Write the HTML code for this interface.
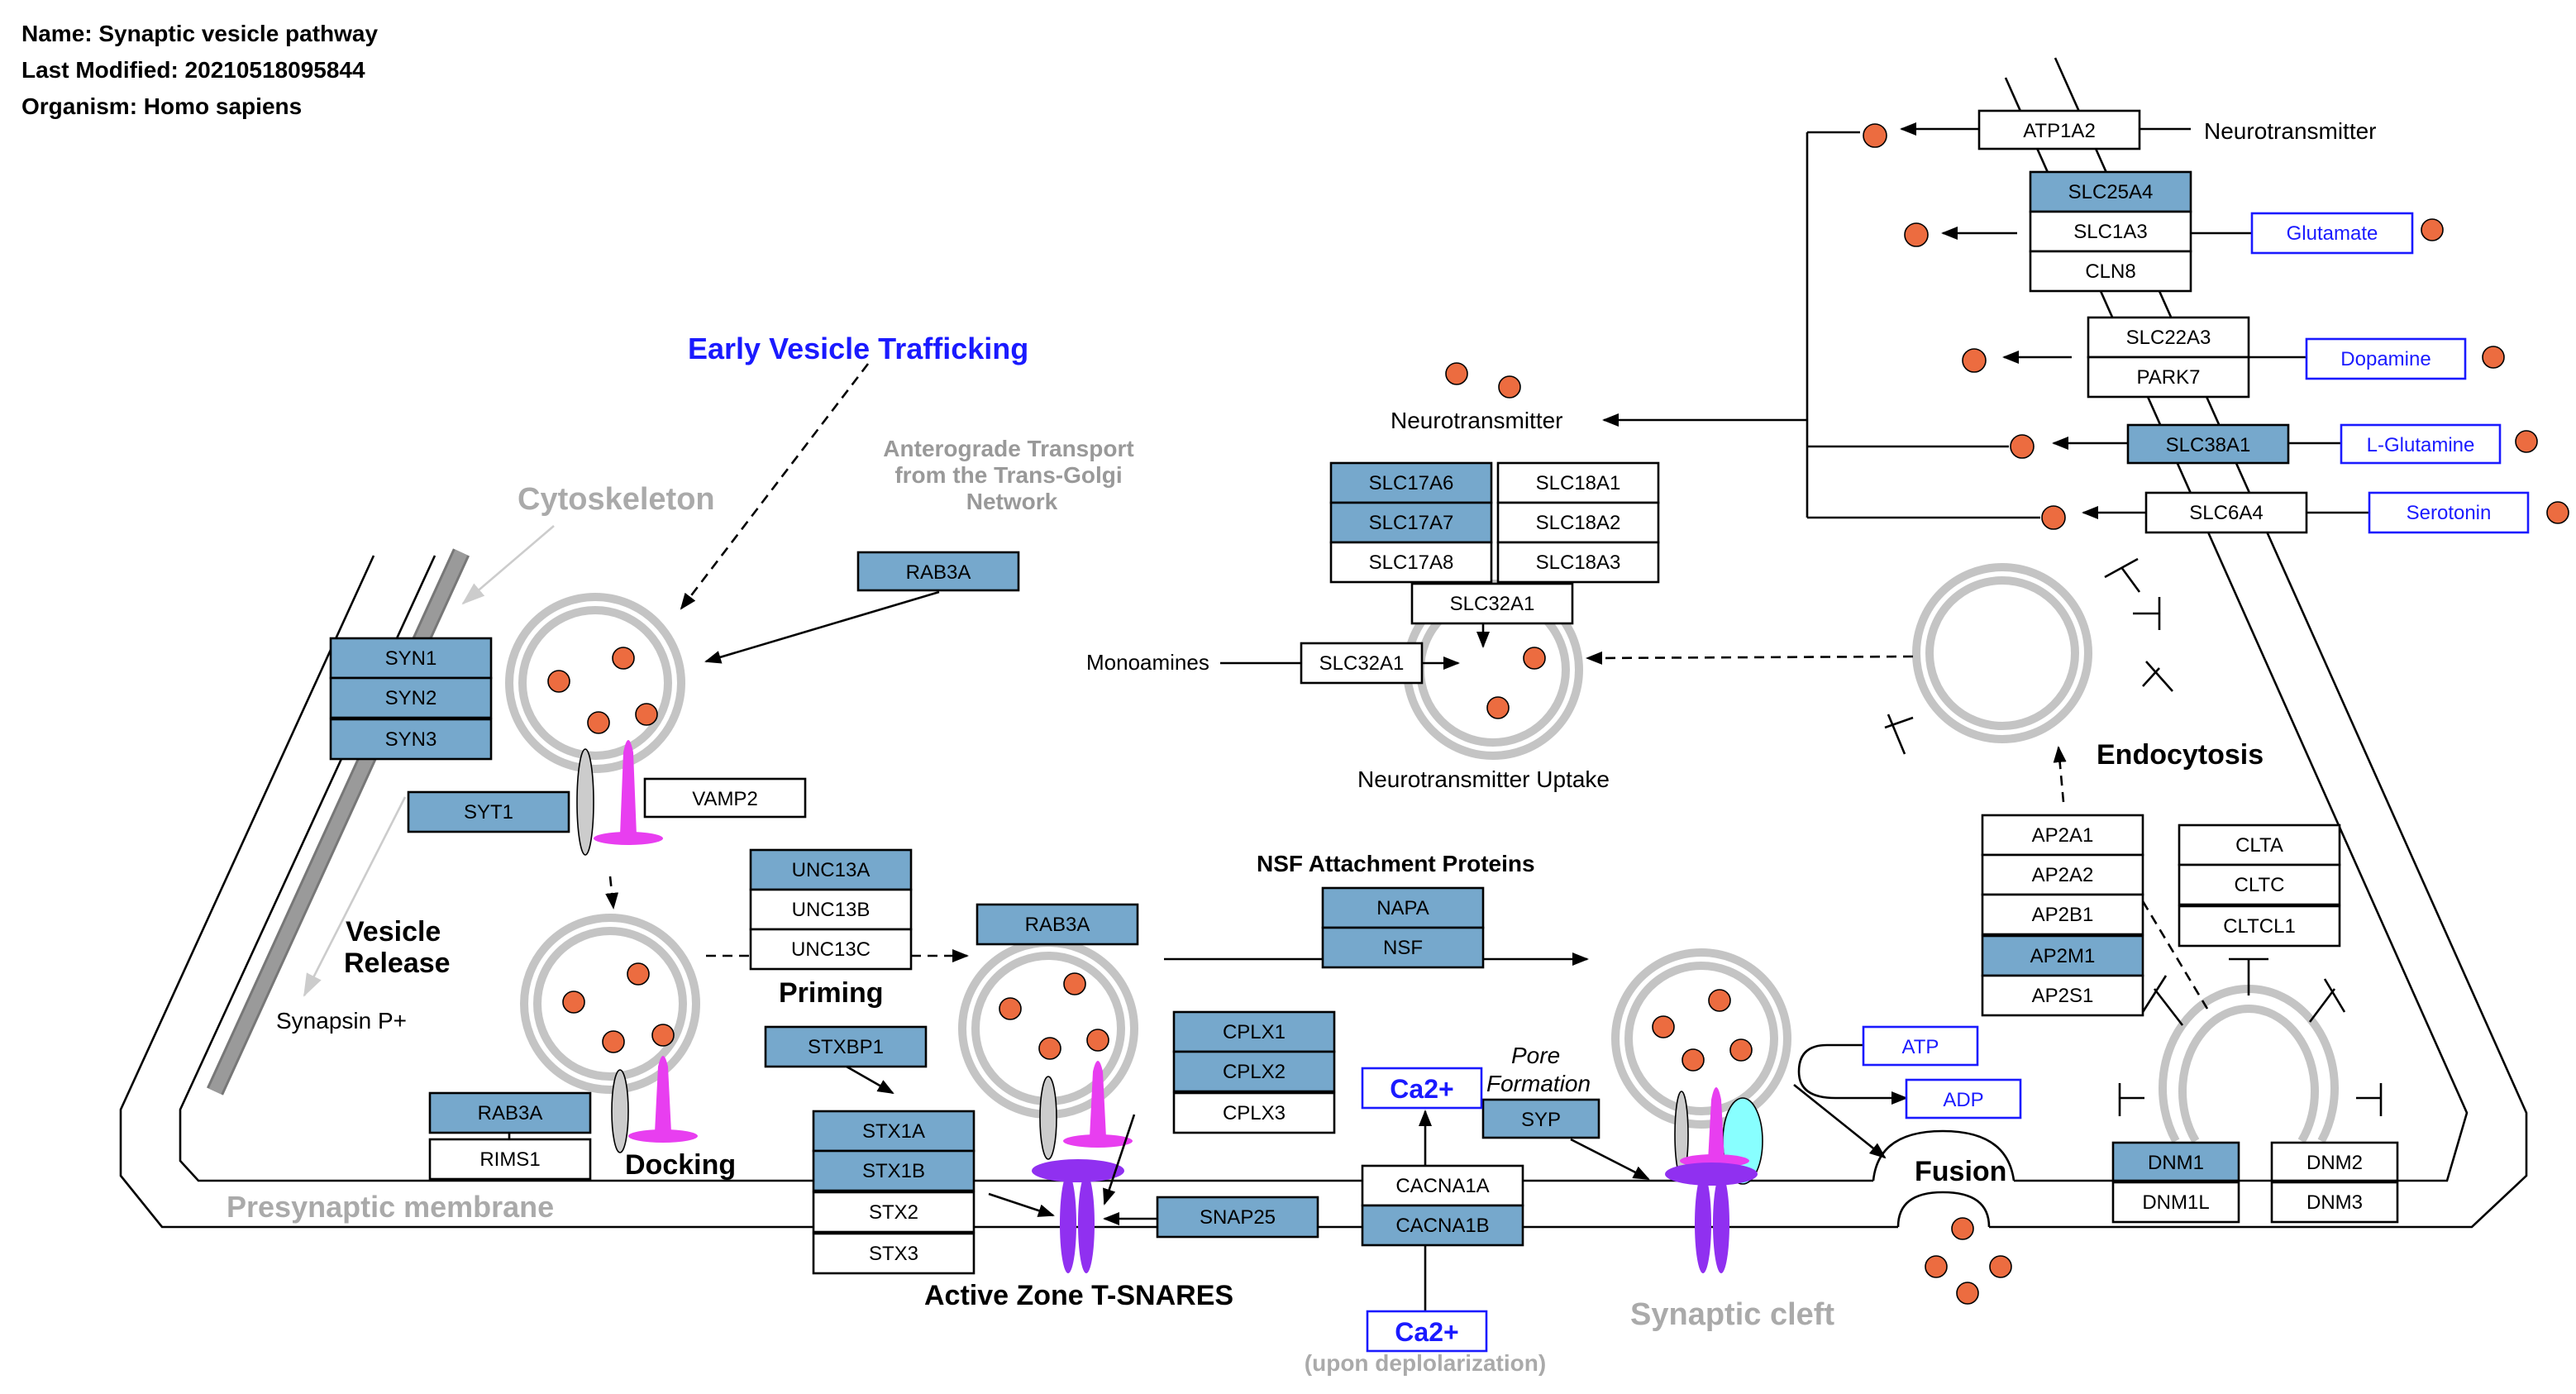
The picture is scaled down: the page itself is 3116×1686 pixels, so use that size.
<!DOCTYPE html>
<html><head><meta charset="utf-8"><style>
html,body{margin:0;padding:0;background:#fff;}
svg{display:block;}
text{font-family:"Liberation Sans",Arial,sans-serif;}
.b{fill:#76a8cc;stroke:#000;stroke-width:1.3}
.w{fill:#fff;stroke:#000;stroke-width:1.3}
.o{fill:#fff;stroke:#1a1aff;stroke-width:1.3}
.t{font-size:12px;text-anchor:middle;fill:#000}
.tb{font-size:12px;text-anchor:middle;fill:#1a1aff}
.ln{stroke:#000;stroke-width:1.3;fill:none}
.ds{stroke:#000;stroke-width:1.3;fill:none;stroke-dasharray:6,4}
.d{fill:#ec6c40;stroke:#000;stroke-width:0.8}
.vo{fill:none;stroke:#c4c4c4;stroke-width:5}
.h{font-weight:bold;}
</style></head><body>
<svg width="3116" height="1686" viewBox="0 0 1558 843" xmlns="http://www.w3.org/2000/svg">
<defs>
<marker id="a" markerWidth="10" markerHeight="8" refX="9" refY="4" orient="auto" markerUnits="userSpaceOnUse"><path d="M0,0 L10,4 L0,8 z" fill="#000"/></marker>
<marker id="g" markerWidth="14" markerHeight="10" refX="13" refY="5" orient="auto" markerUnits="userSpaceOnUse"><path d="M0,0 L14,5 L0,10 z" fill="#ccc"/></marker>
</defs>

<text x="13" y="25" font-size="14" class="h">Name: Synaptic vesicle pathway</text>
<text x="13" y="47" font-size="14" class="h">Last Modified: 20210518095844</text>
<text x="13" y="69" font-size="14" class="h">Organism: Homo sapiens</text>

<!-- membranes -->
<polyline class="ln" points="226,336 73,671 73,711 98,742 1148,742"/>
<path class="ln" d="M1148,742 Q1148,721 1175,721 Q1203,721 1203,742"/>
<polyline class="ln" points="1203,742 1495,742 1528,711 1528,673 1243,35"/>
<polyline class="ln" points="263,336 109,671 109,702 120,714 1133,714"/>
<path class="ln" d="M1133,714 Q1136,684 1175,684 Q1214,684 1218,714"/>
<polyline class="ln" points="1218,714 1480,714 1492,673 1213,47"/>
<!-- cytoskeleton -->
<line x1="279" y1="334" x2="130" y2="660" stroke="#777" stroke-width="11"/>
<line x1="279" y1="334" x2="130" y2="660" stroke="#9a9a9a" stroke-width="8"/>

<!-- vesicles -->
<g><circle cx="360" cy="413" r="52" class="vo"/><circle cx="360" cy="413" r="44" class="vo"/>
<circle cx="338" cy="412" r="6.5" class="d"/><circle cx="377" cy="398" r="6.5" class="d"/><circle cx="362" cy="437" r="6.5" class="d"/><circle cx="391" cy="432" r="6.5" class="d"/></g>
<g><circle cx="369" cy="607" r="52" class="vo"/><circle cx="369" cy="607" r="44" class="vo"/>
<circle cx="347" cy="606" r="6.5" class="d"/><circle cx="386" cy="589" r="6.5" class="d"/><circle cx="371" cy="630" r="6.5" class="d"/><circle cx="401" cy="626" r="6.5" class="d"/></g>
<g><circle cx="634" cy="622" r="52" class="vo"/><circle cx="634" cy="622" r="44" class="vo"/>
<circle cx="611" cy="610" r="6.5" class="d"/><circle cx="650" cy="595" r="6.5" class="d"/><circle cx="635" cy="634" r="6.5" class="d"/><circle cx="664" cy="629" r="6.5" class="d"/></g>
<g><circle cx="1029" cy="628" r="52" class="vo"/><circle cx="1029" cy="628" r="44" class="vo"/>
<circle cx="1006" cy="621" r="6.5" class="d"/><circle cx="1040" cy="605" r="6.5" class="d"/><circle cx="1024" cy="641" r="6.5" class="d"/><circle cx="1053" cy="635" r="6.5" class="d"/></g>
<g><circle cx="903" cy="405" r="52" class="vo"/><circle cx="903" cy="405" r="44" class="vo"/>
<circle cx="928" cy="398" r="6.5" class="d"/><circle cx="906" cy="428" r="6.5" class="d"/><circle cx="881" cy="226" r="6.5" class="d"/><circle cx="913" cy="234" r="6.5" class="d"/></g>
<g><circle cx="1211" cy="395" r="52" class="vo"/><circle cx="1211" cy="395" r="44" class="vo"/></g>
<path class="vo" d="M1316,690 A52,60 0 1 1 1404,690"/>
<path class="vo" d="M1328,690 A40,50 0 1 1 1392,690"/>

<!-- proteins -->
<ellipse cx="354" cy="485" rx="5" ry="32" fill="#ccc" stroke="#000" stroke-width="0.8"/>
<path d="M375,505 L377,455 Q380,440 383,455 L385,505 z" fill="#e83ef0"/><ellipse cx="380" cy="507" rx="21" ry="4" fill="#e83ef0"/>
<ellipse cx="375" cy="672" rx="5" ry="25" fill="#ccc" stroke="#000" stroke-width="0.8"/>
<path d="M396,685 L398,645 Q401,632 404,645 L406,685 z" fill="#e83ef0"/><ellipse cx="401" cy="687" rx="21" ry="4" fill="#e83ef0"/>
<ellipse cx="634" cy="676" rx="5" ry="25" fill="#ccc" stroke="#000" stroke-width="0.8"/>
<path d="M659,688 L661,648 Q664,635 667,648 L669,688 z" fill="#e83ef0"/><ellipse cx="664" cy="690" rx="21" ry="4" fill="#e83ef0"/>
<ellipse cx="652" cy="708" rx="28" ry="7" fill="#9030f0"/>
<ellipse cx="646" cy="740" rx="5" ry="30" fill="#9030f0"/><ellipse cx="657" cy="740" rx="5" ry="30" fill="#9030f0"/>
<ellipse cx="1017" cy="686" rx="4" ry="26" fill="#ccc" stroke="#000" stroke-width="0.8"/>
<ellipse cx="1054" cy="690" rx="12" ry="26" fill="#88ffff" stroke="#000" stroke-width="0.8"/>
<path d="M1033,702 L1035,665 Q1038,650 1041,665 L1043,702 z" fill="#e83ef0"/><ellipse cx="1037" cy="702" rx="21" ry="4" fill="#e83ef0"/>
<ellipse cx="1035" cy="710" rx="28" ry="7" fill="#9030f0"/>
<ellipse cx="1030" cy="740" rx="5" ry="30" fill="#9030f0"/><ellipse cx="1041" cy="740" rx="5" ry="30" fill="#9030f0"/>

<!-- cleft and right dots -->
<circle cx="1187" cy="743" r="6.5" class="d"/><circle cx="1171" cy="766" r="6.5" class="d"/><circle cx="1210" cy="766" r="6.5" class="d"/><circle cx="1190" cy="782" r="6.5" class="d"/>
<circle cx="1134" cy="82" r="7" class="d"/><circle cx="1159" cy="142" r="7" class="d"/><circle cx="1194" cy="218" r="7" class="d"/><circle cx="1223" cy="270" r="7" class="d"/><circle cx="1242" cy="313" r="7" class="d"/>
<circle cx="1471" cy="139" r="6.5" class="d"/><circle cx="1508" cy="216" r="6.5" class="d"/><circle cx="1528" cy="267" r="6.5" class="d"/><circle cx="1547" cy="310" r="6.5" class="d"/>

<!-- connectors -->
<line class="ds" x1="525" y1="220" x2="412" y2="368" marker-end="url(#a)"/>
<line x1="335" y1="318" x2="280" y2="365" stroke="#ccc" stroke-width="1.3" marker-end="url(#g)"/>
<line class="ln" x1="568" y1="358" x2="427" y2="400" marker-end="url(#a)"/>
<line x1="245" y1="482" x2="184" y2="602" stroke="#ccc" stroke-width="1.3" marker-end="url(#g)"/>
<line class="ds" x1="369" y1="530" x2="371" y2="549" marker-end="url(#a)"/>
<line class="ds" x1="427" y1="578" x2="454" y2="578"/>
<line class="ds" x1="551" y1="578" x2="585" y2="578" marker-end="url(#a)"/>
<line class="ln" x1="704" y1="580" x2="960" y2="580" marker-end="url(#a)"/>
<line class="ln" x1="512" y1="645" x2="540" y2="661" marker-end="url(#a)"/>
<line class="ln" x1="598" y1="722" x2="637" y2="735" marker-end="url(#a)"/>
<line class="ln" x1="686" y1="674" x2="668" y2="728" marker-end="url(#a)"/>
<line class="ln" x1="700" y1="737" x2="668" y2="737" marker-end="url(#a)"/>
<line class="ln" x1="308" y1="685" x2="308" y2="689"/>
<line class="ln" x1="862" y1="705" x2="862" y2="672" marker-end="url(#a)"/>
<line class="ln" x1="862" y1="753" x2="862" y2="793"/>
<line class="ln" x1="950" y1="689" x2="997" y2="713" marker-end="url(#a)"/>
<line class="ln" x1="1085" y1="656" x2="1140" y2="700" marker-end="url(#a)"/>
<path class="ln" d="M1127,632 L1105,632 Q1088,632 1088,648 Q1088,664 1110,664 L1153,664" marker-end="url(#a)"/>
<line class="ln" x1="738" y1="401" x2="787" y2="401"/>
<line class="ln" x1="860" y1="401" x2="882" y2="401" marker-end="url(#a)"/>
<line class="ln" x1="897" y1="377" x2="897" y2="391" marker-end="url(#a)"/>
<line class="ds" x1="1157" y1="397" x2="960" y2="398" marker-end="url(#a)"/>
<line class="ln" x1="1093" y1="80" x2="1093" y2="313"/>
<line class="ln" x1="1093" y1="80" x2="1125" y2="80"/>
<line class="ln" x1="1093" y1="270" x2="1215" y2="270"/>
<line class="ln" x1="1093" y1="313" x2="1234" y2="313"/>
<line class="ln" x1="1093" y1="254" x2="970" y2="254" marker-end="url(#a)"/>
<line class="ln" x1="1197" y1="78" x2="1150" y2="78" marker-end="url(#a)"/>
<line class="ln" x1="1220" y1="141" x2="1175" y2="141" marker-end="url(#a)"/>
<line class="ln" x1="1253" y1="216" x2="1212" y2="216" marker-end="url(#a)"/>
<line class="ln" x1="1287" y1="268" x2="1242" y2="268" marker-end="url(#a)"/>
<line class="ln" x1="1298" y1="310" x2="1260" y2="310" marker-end="url(#a)"/>
<line class="ln" x1="1294" y1="78" x2="1325" y2="78"/>
<line class="ln" x1="1362" y1="141" x2="1325" y2="141"/>
<line class="ln" x1="1395" y1="216" x2="1360" y2="216"/>
<line class="ln" x1="1416" y1="268" x2="1384" y2="268"/>
<line class="ln" x1="1433" y1="310" x2="1395" y2="310"/>
<line class="ds" x1="1248" y1="485" x2="1245" y2="452" marker-end="url(#a)"/>
<line class="ds" x1="1296" y1="545" x2="1335" y2="610"/>
<!-- inhibition T bars -->
<g class="ln">
<path d="M1360,602 L1360,580 M1348,580 L1372,580"/>
<path d="M1297,664 L1282,664 M1282,655 L1282,675"/>
<path d="M1425,664 L1440,664 M1440,655 L1440,675"/>
<path d="M1320,620 L1303,598 M1296,612 L1310,590"/>
<path d="M1397,618 L1412,598 M1406,592 L1418,612"/>
<path d="M1294,358 L1283,343 M1273,349 L1293,338"/>
<path d="M1290,371 L1306,371 M1306,361 L1306,381"/>
<path d="M1296,415 L1306,404 M1298,400 L1314,418"/>
<path d="M1140,440 L1157,434 M1142,432 L1152,456"/>
</g>

<!-- boxes -->
<g>
<rect x="200" y="386" width="97" height="24" class="b"/><text x="248.5" y="402" class="t">SYN1</text>
<rect x="200" y="410" width="97" height="24" class="b"/><text x="248.5" y="426" class="t">SYN2</text>
<rect x="200" y="435" width="97" height="24" class="b"/><text x="248.5" y="451" class="t">SYN3</text>
<rect x="247" y="479" width="97" height="24" class="b"/><text x="295.5" y="495" class="t">SYT1</text>
<rect x="390" y="471" width="97" height="23" class="w"/><text x="438.5" y="487" class="t">VAMP2</text>
<rect x="519" y="334" width="97" height="23" class="b"/><text x="567.5" y="350" class="t">RAB3A</text>
<rect x="454" y="514" width="97" height="24" class="b"/><text x="502.5" y="530" class="t">UNC13A</text>
<rect x="454" y="538" width="97" height="24" class="w"/><text x="502.5" y="554" class="t">UNC13B</text>
<rect x="454" y="562" width="97" height="24" class="w"/><text x="502.5" y="578" class="t">UNC13C</text>
<rect x="591" y="547" width="97" height="24" class="b"/><text x="639.5" y="563" class="t">RAB3A</text>
<rect x="463" y="621" width="97" height="24" class="b"/><text x="511.5" y="637" class="t">STXBP1</text>
<rect x="260" y="661" width="97" height="24" class="b"/><text x="308.5" y="677" class="t">RAB3A</text>
<rect x="260" y="689" width="97" height="24" class="w"/><text x="308.5" y="705" class="t">RIMS1</text>
<rect x="492" y="672" width="97" height="24" class="b"/><text x="540.5" y="688" class="t">STX1A</text>
<rect x="492" y="696" width="97" height="24" class="b"/><text x="540.5" y="712" class="t">STX1B</text>
<rect x="492" y="721" width="97" height="24" class="w"/><text x="540.5" y="737" class="t">STX2</text>
<rect x="492" y="746" width="97" height="24" class="w"/><text x="540.5" y="762" class="t">STX3</text>
<rect x="710" y="612" width="97" height="24" class="b"/><text x="758.5" y="628" class="t">CPLX1</text>
<rect x="710" y="636" width="97" height="24" class="b"/><text x="758.5" y="652" class="t">CPLX2</text>
<rect x="710" y="661" width="97" height="24" class="w"/><text x="758.5" y="677" class="t">CPLX3</text>
<rect x="700" y="724" width="97" height="24" class="b"/><text x="748.5" y="740" class="t">SNAP25</text>
<rect x="800" y="537" width="97" height="24" class="b"/><text x="848.5" y="553" class="t">NAPA</text>
<rect x="800" y="561" width="97" height="24" class="b"/><text x="848.5" y="577" class="t">NSF</text>
<rect x="824" y="705" width="97" height="24" class="w"/><text x="872.5" y="721" class="t">CACNA1A</text>
<rect x="824" y="729" width="97" height="24" class="b"/><text x="872.5" y="745" class="t">CACNA1B</text>
<rect x="897" y="665" width="70" height="23" class="b"/><text x="932" y="681" class="t">SYP</text>
<rect x="824" y="646" width="72" height="24" class="o"/><text x="860" y="664" style="font-size:16px;font-weight:bold;fill:#1a1aff" text-anchor="middle">Ca2+</text>
<rect x="827" y="793" width="72" height="24" class="o"/><text x="863" y="811" style="font-size:16px;font-weight:bold;fill:#1a1aff" text-anchor="middle">Ca2+</text>
<rect x="1127" y="621" width="69" height="23" class="o"/><text x="1161.5" y="637" class="tb">ATP</text>
<rect x="1153" y="653" width="69" height="23" class="o"/><text x="1187.5" y="669" class="tb">ADP</text>
<rect x="805" y="280" width="97" height="24" class="b"/><text x="853.5" y="296" class="t">SLC17A6</text>
<rect x="805" y="304" width="97" height="24" class="b"/><text x="853.5" y="320" class="t">SLC17A7</text>
<rect x="805" y="328" width="97" height="24" class="w"/><text x="853.5" y="344" class="t">SLC17A8</text>
<rect x="906" y="280" width="97" height="24" class="w"/><text x="954.5" y="296" class="t">SLC18A1</text>
<rect x="906" y="304" width="97" height="24" class="w"/><text x="954.5" y="320" class="t">SLC18A2</text>
<rect x="906" y="328" width="97" height="24" class="w"/><text x="954.5" y="344" class="t">SLC18A3</text>
<rect x="854" y="353" width="97" height="24" class="w"/><text x="902.5" y="369" class="t">SLC32A1</text>
<rect x="787" y="389" width="73" height="24" class="w"/><text x="823.5" y="405" class="t">SLC32A1</text>
<rect x="1197" y="67" width="97" height="23" class="w"/><text x="1245.5" y="83" class="t">ATP1A2</text>
<rect x="1228" y="104" width="97" height="24" class="b"/><text x="1276.5" y="120" class="t">SLC25A4</text>
<rect x="1228" y="128" width="97" height="24" class="w"/><text x="1276.5" y="144" class="t">SLC1A3</text>
<rect x="1228" y="152" width="97" height="24" class="w"/><text x="1276.5" y="168" class="t">CLN8</text>
<rect x="1263" y="192" width="97" height="24" class="w"/><text x="1311.5" y="208" class="t">SLC22A3</text>
<rect x="1263" y="216" width="97" height="24" class="w"/><text x="1311.5" y="232" class="t">PARK7</text>
<rect x="1287" y="257" width="97" height="23" class="b"/><text x="1335.5" y="273" class="t">SLC38A1</text>
<rect x="1298" y="298" width="97" height="24" class="w"/><text x="1346.5" y="314" class="t">SLC6A4</text>
<rect x="1362" y="129" width="97" height="24" class="o"/><text x="1410.5" y="145" class="tb">Glutamate</text>
<rect x="1395" y="205" width="96" height="24" class="o"/><text x="1443" y="221" class="tb">Dopamine</text>
<rect x="1416" y="257" width="96" height="23" class="o"/><text x="1464" y="273" class="tb">L-Glutamine</text>
<rect x="1433" y="298" width="96" height="24" class="o"/><text x="1481" y="314" class="tb">Serotonin</text>
<rect x="1199" y="493" width="97" height="24" class="w"/><text x="1247.5" y="509" class="t">AP2A1</text>
<rect x="1199" y="517" width="97" height="24" class="w"/><text x="1247.5" y="533" class="t">AP2A2</text>
<rect x="1199" y="541" width="97" height="24" class="w"/><text x="1247.5" y="557" class="t">AP2B1</text>
<rect x="1199" y="566" width="97" height="24" class="b"/><text x="1247.5" y="582" class="t">AP2M1</text>
<rect x="1199" y="590" width="97" height="24" class="w"/><text x="1247.5" y="606" class="t">AP2S1</text>
<rect x="1318" y="499" width="97" height="24" class="w"/><text x="1366.5" y="515" class="t">CLTA</text>
<rect x="1318" y="523" width="97" height="24" class="w"/><text x="1366.5" y="539" class="t">CLTC</text>
<rect x="1318" y="548" width="97" height="24" class="w"/><text x="1366.5" y="564" class="t">CLTCL1</text>
<rect x="1278" y="691" width="76" height="23" class="b"/><text x="1316" y="707" class="t">DNM1</text>
<rect x="1278" y="715" width="76" height="24" class="w"/><text x="1316" y="731" class="t">DNM1L</text>
<rect x="1374" y="691" width="76" height="23" class="w"/><text x="1412" y="707" class="t">DNM2</text>
<rect x="1374" y="715" width="76" height="24" class="w"/><text x="1412" y="731" class="t">DNM3</text>
</g>

<!-- labels -->
<text x="416" y="217" font-size="18" fill="#1a1aff" class="h">Early Vesicle Trafficking</text>
<g font-size="14" fill="#999" class="h" text-anchor="middle">
<text x="610" y="276">Anterograde Transport</text><text x="610" y="292">from the Trans-Golgi</text><text x="612" y="308">Network</text></g>
<text x="313" y="308" font-size="19" fill="#aaa" class="h">Cytoskeleton</text>
<text x="209" y="569" font-size="17" class="h">Vesicle</text>
<text x="208" y="588" font-size="17" class="h">Release</text>
<text x="167" y="622" font-size="14">Synapsin P+</text>
<text x="471" y="606" font-size="17" class="h">Priming</text>
<text x="378" y="710" font-size="17" class="h">Docking</text>
<text x="137" y="736" font-size="18" fill="#aaa" class="h">Presynaptic membrane</text>
<text x="559" y="789" font-size="17" class="h">Active Zone T-SNARES</text>
<text x="760" y="527" font-size="14" class="h">NSF Attachment Proteins</text>
<text x="914" y="643" font-size="14" font-style="italic">Pore</text>
<text x="899" y="660" font-size="14" font-style="italic">Formation</text>
<text x="862" y="829" font-size="14" fill="#aaa" class="h" text-anchor="middle">(upon deplolarization)</text>
<text x="986" y="801" font-size="19" fill="#aaa" class="h">Synaptic cleft</text>
<text x="1158" y="714" font-size="17" class="h">Fusion</text>
<text x="1268" y="462" font-size="17" class="h">Endocytosis</text>
<text x="821" y="476" font-size="14">Neurotransmitter Uptake</text>
<text x="841" y="259" font-size="14">Neurotransmitter</text>
<text x="657" y="405" font-size="13">Monoamines</text>
<text x="1333" y="84" font-size="14">Neurotransmitter</text>
</svg>
</body></html>
